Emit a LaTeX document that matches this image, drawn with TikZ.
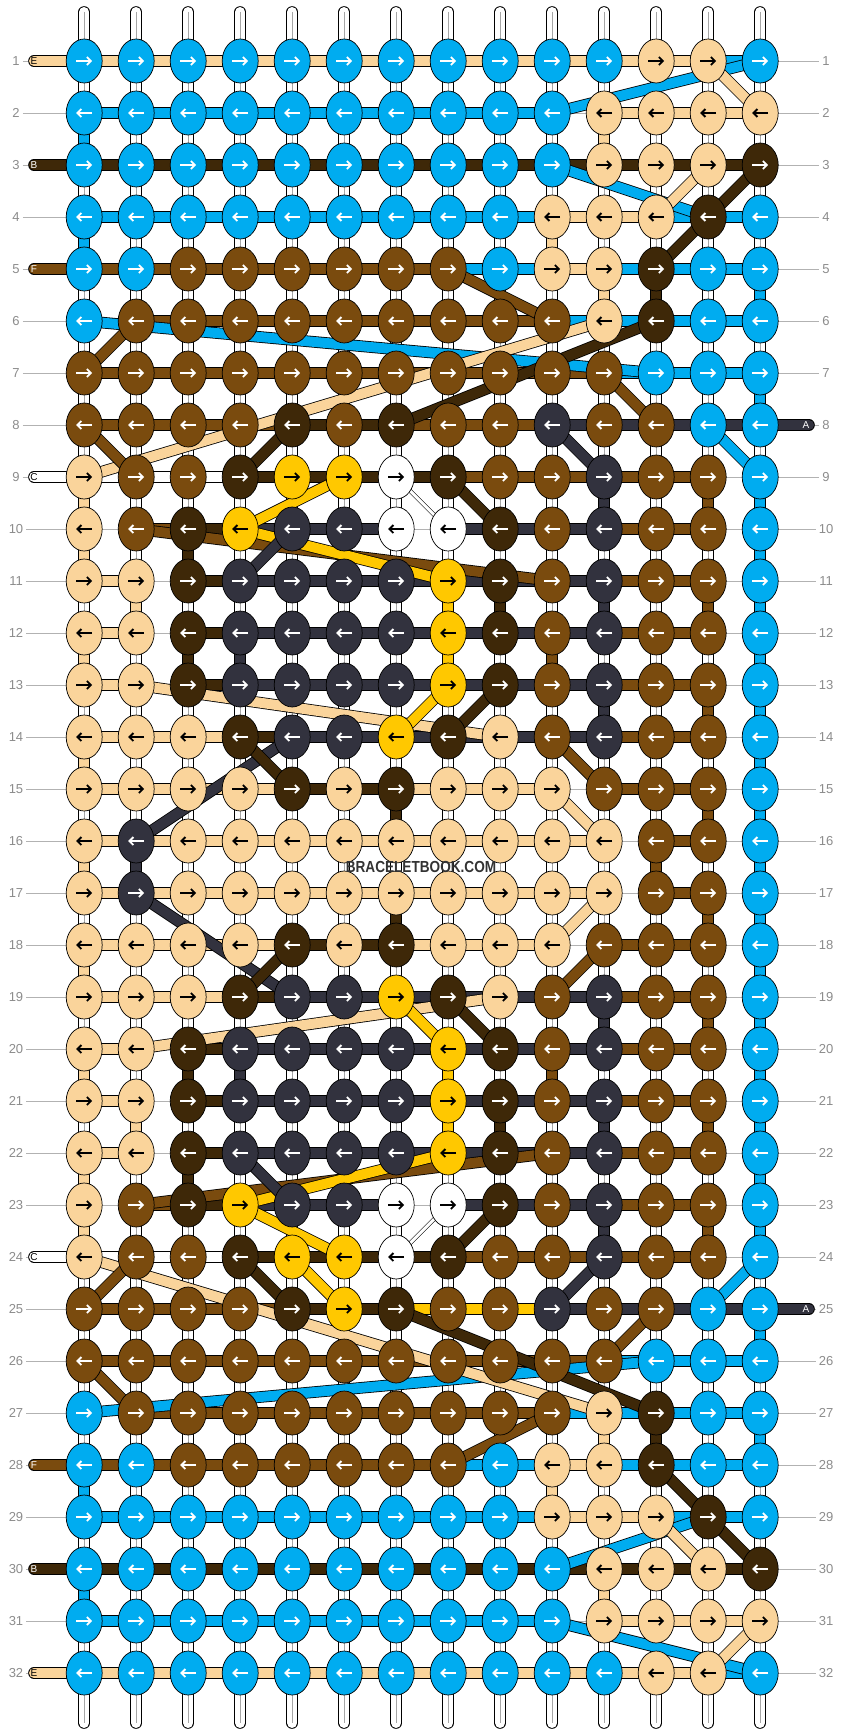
\documentclass[tikz,border=0pt]{standalone}
\usepackage{fontspec}
\setmainfont{Liberation Sans}
\usetikzlibrary{shapes.geometric,arrows.meta}

\definecolor{kb}{RGB}{0,172,240}
\definecolor{kp}{RGB}{250,212,155}
\definecolor{kn}{RGB}{122,75,14}
\definecolor{kd}{RGB}{62,40,8}
\definecolor{kg}{RGB}{50,50,62}
\definecolor{ky}{RGB}{255,200,0}
\definecolor{kw}{RGB}{255,255,255}
\colorlet{ab}{white}
\colorlet{an}{white}
\colorlet{ad}{white}
\colorlet{ag}{white}
\colorlet{ap}{black}
\colorlet{ay}{black}
\colorlet{aw}{black}

\tikzset{
  knot/.style={ellipse, draw=black, line width=0.7pt, fill=#1, minimum width=36pt, minimum height=44pt, inner sep=0pt},
  thread/.style={draw=black, line width=0.8pt, double=#1, double distance=10pt},
  thinthread/.style={draw=black, line width=0.5pt, double=#1, double distance=3pt},
  cord/.style={draw=black, line width=0.8pt, double=white, double distance=10pt, line cap=round},
  pointer/.style={draw=#1, line width=1.8pt, -{Straight Barb[length=4pt,width=8pt]}},
  rowlabel/.style={text=black!45, inner sep=3pt, font=\fontsize{13}{13}\selectfont},
  rowline/.style={draw=black!30, line width=0.6pt},
  letter/.style={text=#1, inner sep=0pt, font=\fontsize{10}{10}\selectfont}
}

\def\nix{x}
\def\knotrows{
1/{b,b,b,b,b,b,b,b,b,b,b,p,p,b}/{p,p,p,p,p,p,p,p,p,p,p,p,b},
2/{b,b,b,b,b,b,b,b,b,b,p,p,p,p}/{b,b,b,b,b,b,b,b,b,x,p,p,p},
3/{b,b,b,b,b,b,b,b,b,b,p,p,p,d}/{d,d,d,d,d,d,d,d,d,d,d,d,d},
4/{b,b,b,b,b,b,b,b,b,p,p,p,d,b}/{b,b,b,b,b,b,b,b,b,p,p,b,b},
5/{b,b,n,n,n,n,n,n,b,p,p,d,b,b}/{n,n,n,n,n,n,n,b,b,p,b,b,b},
6/{b,n,n,n,n,n,n,n,n,n,p,d,b,b}/{x,n,n,n,n,n,n,n,n,b,b,b,b},
7/{n,n,n,n,n,n,n,n,n,n,n,b,b,b}/{n,n,n,n,n,n,n,n,n,n,b,b,b},
8/{n,n,n,n,d,n,d,n,n,g,n,n,b,b}/{n,n,n,n,d,d,n,n,n,g,g,g,g},
9/{p,n,n,d,y,y,w,d,n,n,g,n,n,b}/{w,w,w,d,d,d,d,n,n,n,n,n,x},
10/{p,n,d,y,g,g,w,w,d,n,g,n,n,b}/{x,n,d,g,g,g,x,g,g,g,n,n,x},
11/{p,p,d,g,g,g,g,y,d,n,g,n,n,b}/{p,x,d,g,g,g,g,g,g,g,n,n,x},
12/{p,p,d,g,g,g,g,y,d,n,g,n,n,b}/{p,x,d,g,g,g,g,g,g,g,n,n,x},
13/{p,p,d,g,g,g,g,y,d,n,g,n,n,b}/{p,x,d,g,g,g,g,g,g,g,n,n,x},
14/{p,p,p,d,g,g,y,d,p,n,g,n,n,b}/{p,p,p,d,g,g,g,g,g,g,n,n,x},
15/{p,p,p,p,d,p,d,p,p,p,n,n,n,b}/{p,p,p,p,d,d,p,p,p,x,n,n,x},
16/{p,g,p,p,p,p,p,p,p,p,p,n,n,b}/{p,p,p,p,p,p,p,p,p,p,x,n,x},
17/{p,g,p,p,p,p,p,p,p,p,p,n,n,b}/{p,p,p,p,p,p,p,p,p,p,x,n,x},
18/{p,p,p,p,d,p,d,p,p,p,n,n,n,b}/{p,p,p,p,d,d,p,p,p,x,n,n,x},
19/{p,p,p,d,g,g,y,d,p,n,g,n,n,b}/{p,p,p,d,g,g,g,g,g,g,n,n,x},
20/{p,p,d,g,g,g,g,y,d,n,g,n,n,b}/{p,x,d,g,g,g,g,g,g,g,n,n,x},
21/{p,p,d,g,g,g,g,y,d,n,g,n,n,b}/{p,x,d,g,g,g,g,g,g,g,n,n,x},
22/{p,p,d,g,g,g,g,y,d,n,g,n,n,b}/{p,x,d,g,g,g,g,g,g,g,n,n,x},
23/{p,n,d,y,g,g,w,w,d,n,g,n,n,b}/{x,n,d,g,g,g,x,g,g,g,n,n,x},
24/{p,n,n,d,y,y,w,d,n,n,g,n,n,b}/{w,w,w,d,d,d,d,n,n,n,n,n,x},
25/{n,n,n,n,d,y,d,n,n,g,n,n,b,b}/{n,n,n,n,d,d,y,y,y,g,g,g,g},
26/{n,n,n,n,n,n,n,n,n,n,n,b,b,b}/{n,n,n,n,n,n,n,n,n,n,b,b,b},
27/{b,n,n,n,n,n,n,n,n,n,p,d,b,b}/{x,n,n,n,n,n,n,n,n,b,b,b,b},
28/{b,b,n,n,n,n,n,n,b,p,p,d,b,b}/{n,n,n,n,n,n,n,b,b,p,b,b,b},
29/{b,b,b,b,b,b,b,b,b,p,p,p,d,b}/{b,b,b,b,b,b,b,b,b,p,p,b,b},
30/{b,b,b,b,b,b,b,b,b,b,p,p,p,d}/{d,d,d,d,d,d,d,d,d,d,d,d,d},
31/{b,b,b,b,b,b,b,b,b,b,p,p,p,p}/{b,b,b,b,b,b,b,b,b,x,p,p,p},
32/{b,b,b,b,b,b,b,b,b,b,b,p,p,b}/{p,p,p,p,p,p,p,p,p,p,p,p,b}}

\begin{document}
\begin{tikzpicture}[x=1pt, y=-1pt]
\useasboundingbox (0,0) rectangle (844,1736);
\fill[white] (0,0) rectangle (844,1736);

\foreach \r in {1,...,32}
  \foreach \c in {1,...,14}
    \coordinate (p\r-\c) at ({84.2+52*(\c-1)},{61+52*(\r-1)});

\foreach \r in {1,...,32}{
  \node[rowlabel] (lab\r) at (16,{61+52*(\r-1)}) {\r};
  \node[rowlabel] (rab\r) at (826,{61+52*(\r-1)}) {\r};
  \draw[rowline] (lab\r.east) -- (rab\r.west);
}

\foreach \c in {1,...,14}{
  \draw[cord] ([yshift=49pt]p1-\c) -- ([yshift=-50pt]p32-\c);
  \draw[black!35, line width=0.4pt] ([yshift=49pt]p1-\c) -- ([yshift=-50pt]p32-\c);
}

\foreach \r/\ks/\ss in \knotrows{
  \foreach \s [count=\c] in \ss{
    \ifx\s\nix\else
      \pgfmathtruncatemacro\cn{\c+1}
      \draw[thread=k\s] (p\r-\c) -- (p\r-\cn);
    \fi
  }
}

\foreach \r/\c/\t in {2/1/b, 2/11/p, 4/1/b, 4/10/p, 5/11/p, 5/12/d, 5/14/b, 7/14/b,
  9/1/p, 9/11/g, 9/13/n, 9/14/b, 10/1/p, 10/3/d, 10/14/b,
  11/2/p, 11/8/y, 11/9/d, 11/11/g, 11/13/n, 11/14/b,
  12/1/p, 12/3/d, 12/4/g, 12/8/y, 12/10/n, 12/14/b,
  13/11/g, 13/13/n, 13/14/b, 14/1/p, 14/14/b, 15/7/d, 15/13/n, 15/14/b,
  16/1/p, 16/2/g, 16/12/n, 16/14/b}{
  \pgfmathtruncatemacro\rn{\r+1}
  \pgfmathtruncatemacro\mr{32-\r}
  \pgfmathtruncatemacro\mn{33-\r}
  \draw[thread=k\t] (p\r-\c) -- (p\rn-\c);
  \draw[thread=k\t] (p\mr-\c) -- (p\mn-\c);
}

\foreach \ra/\ca/\rb/\cb/\t in {2/10/1/14/b, 1/13/2/14/p, 3/10/4/13/b, 4/12/3/13/p,
  3/14/4/13/d, 4/13/5/12/d, 5/8/6/10/n, 6/1/7/12/b, 6/11/9/1/p, 6/12/8/7/d,
  6/2/7/1/n, 8/1/9/2/n, 9/4/8/5/d, 7/11/8/12/n, 8/10/9/11/g, 8/13/9/14/b,
  9/6/10/4/y, 9/8/10/9/d, 10/2/11/10/n, 10/4/11/8/y, 10/5/11/4/g,
  13/2/14/9/p, 13/8/14/7/y, 13/9/14/8/d, 14/5/16/2/g, 14/4/15/5/d,
  14/10/15/11/n, 15/10/16/11/p}{
  \pgfmathtruncatemacro\ma{33-\ra}
  \pgfmathtruncatemacro\mb{33-\rb}
  \draw[thread=k\t] (p\ra-\ca) -- (p\rb-\cb);
  \draw[thread=k\t] (p\ma-\ca) -- (p\mb-\cb);
}
\draw[thread=ky] (p24-5) -- (p25-6);
\draw[thinthread=white] (p9-7) -- (p10-8);
\draw[thinthread=white] (p24-7) -- (p23-8);

\foreach \r/\t/\l/\lc in {1/p/E/black, 3/d/B/white, 5/n/F/white, 9/w/C/black,
  24/w/C/black, 28/n/F/white, 30/d/B/white, 32/p/E/black}{
  \coordinate (in\r) at (34,{61+52*(\r-1)});
  \draw[thread=k\t, line cap=round] (in\r) -- (p\r-1);
  \node[letter=\lc] at (in\r) {\l};
}
\foreach \r in {8,25}{
  \coordinate (out\r) at (809,{61+52*(\r-1)});
  \draw[thread=kg, line cap=round] (p\r-14) -- (out\r);
  \node[letter=white] at ([xshift=-3pt]out\r) {A};
}

\foreach \r/\ks/\ss in \knotrows{
  \foreach \k [count=\c] in \ks{
    \node[knot=k\k] (knot\r-\c) at (p\r-\c) {};
    \ifodd\r
      \draw[pointer=a\k] ([xshift=-8pt]p\r-\c) -- ([xshift=8pt]p\r-\c);
    \else
      \draw[pointer=a\k] ([xshift=8pt]p\r-\c) -- ([xshift=-8pt]p\r-\c);
    \fi
  }
}

\node[text=black!80, xscale=0.85, font=\bfseries\fontsize{16}{16}\selectfont] (mark) at (421,867) {BRACELETBOOK.COM};
\end{tikzpicture}
\end{document}
